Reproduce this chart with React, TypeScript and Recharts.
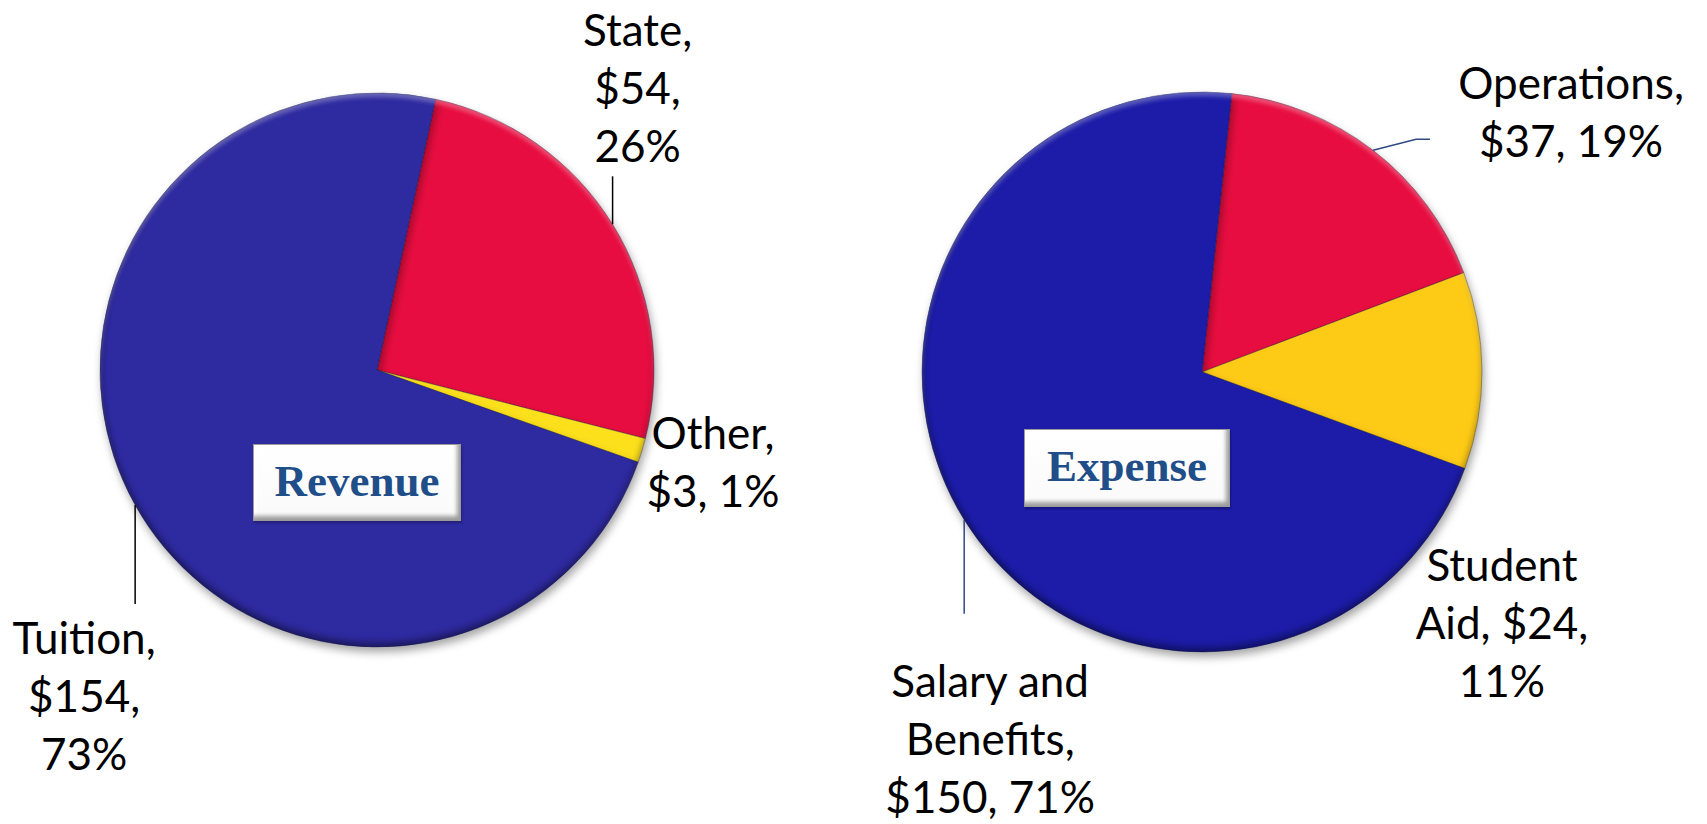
import React from 'react';
import { PieChart, Pie, Cell } from 'recharts';

// ---------- data ----------
const revenueNames = ['State', 'Other', 'Tuition'];
const revenueValues = [54, 3, 154];
const revenuePct = [26, 1, 73];
const revenueColors = ['#E8113F', '#FCE01C', '#2D2BA0'];

const expenseNames = ['Operations', 'Student Aid', 'Salary and Benefits'];
const expenseValues = [37, 24, 150];
const expensePct = [19, 11, 71];
const expenseColors = ['#E8113F', '#FDCA16', '#1A1DA8'];

// ---------- geometry / label layout (style, not data) ----------
const REV = { cx: 377, cy: 370, r: 277, start: 77.8 };
const EXP = { cx: 1202, cy: 372, r: 280, start: 83.9 };

type LabelLayout = { dx: number; dy: number; breaks: number[]; leader: number[][] };
const revenueLayout: LabelLayout[] = [
  { dx: 25, dy: -195, breaks: [1, 1, 1], leader: [[0, 0], [0, -48]] },
  { dx: 71, dy: -18, breaks: [1, 2], leader: [] },
  { dx: -51, dy: 132, breaks: [1, 1, 1], leader: [[0, 0], [0, 99]] },
];
const expenseLayout: LabelLayout[] = [
  { dx: 198, dy: -68, breaks: [1, 2], leader: [[0, 0], [43, -11], [57, -11]] },
  { dx: 20, dy: 193, breaks: [1, 2, 1], leader: [] },
  { dx: 26, dy: 160, breaks: [2, 1, 2], leader: [[0, 0], [0, 94]] },
];

const revenueData = revenueNames.map((n, i) => ({ name: n, value: revenueValues[i], pct: revenuePct[i] }));
const expenseData = expenseNames.map((n, i) => ({ name: n, value: expenseValues[i], pct: expensePct[i] }));

const RAD = Math.PI / 180;
const LINE_H = 58;
const FONT = 'Lato, "Open Sans", sans-serif';

function makeLabel(layouts: LabelLayout[], leaderColor: string) {
  return (props: any) => {
    const { cx, cy, midAngle, outerRadius, index, payload } = props;
    const lay = layouts[index];
    const ex = cx + outerRadius * Math.cos(-midAngle * RAD);
    const ey = cy + outerRadius * Math.sin(-midAngle * RAD);
    const p = payload && payload.payload ? payload.payload : payload;
    const full = `${p.name}, $${p.value}, ${p.pct}%`;
    const words = full.split(' ');
    const lines: string[] = [];
    let k = 0;
    lay.breaks.forEach((b) => {
      lines.push(words.slice(k, k + b).join(' '));
      k += b;
    });
    const tx = ex + lay.dx;
    const ty = ey + lay.dy;
    return (
      <g key={`lbl-${index}`}>
        {lay.leader.length > 1 && (
          <polyline
            points={lay.leader.map(([x, y]) => `${ex + x},${ey + y}`).join(' ')}
            fill="none"
            stroke={leaderColor}
            strokeWidth={1.5}
          />
        )}
        <text x={tx} y={ty} textAnchor="middle" fill="#000" style={{ fontFamily: FONT, fontSize: 44 }}>
          {lines.map((l, i) => (
            <tspan key={i} x={tx} y={ty + i * LINE_H} dominantBaseline="central">
              {l}
            </tspan>
          ))}
        </text>
      </g>
    );
  };
}

const boxStyle = (left: number, top: number, w: number, h: number): React.CSSProperties => ({
  position: 'absolute',
  left,
  top,
  width: w,
  height: h,
  boxSizing: 'border-box',
  background: 'linear-gradient(#ffffff, #fafafa)',
  border: '1px solid #9a9a9a',
  boxShadow:
    'inset -4px -5px 4px -1px rgba(0,0,0,0.38), inset 3px 3px 3px rgba(255,255,255,1), 1px 2px 2px rgba(0,0,0,0.25)',
  display: 'flex',
  alignItems: 'center',
  justifyContent: 'center',
  fontFamily: '"Liberation Serif", serif',
  fontWeight: 'bold',
  fontSize: 45,
  color: '#1F4E89',
  paddingBottom: 4,
});

const bevelStyle = (g: { cx: number; cy: number; r: number }): React.CSSProperties => ({
  position: 'absolute',
  left: g.cx - g.r,
  top: g.cy - g.r,
  width: g.r * 2,
  height: g.r * 2,
  borderRadius: '50%',
  pointerEvents: 'none',
  boxShadow:
    'inset 0 -5px 6px rgba(0,0,0,0.35), inset 0 4px 4px rgba(255,255,255,0.3), inset 3px 0 4px rgba(0,0,0,0.12)',
});

export default function App() {
  return (
    <div style={{ position: 'absolute', left: 0, top: 0, width: 1707, height: 824, background: '#fff' }}>
      <svg width={0} height={0} style={{ position: 'absolute' }}>
        <defs>
          <filter id="pieShadow" x="-20%" y="-20%" width="140%" height="140%">
            <feDropShadow dx="2" dy="5" stdDeviation="4" floodColor="#000" floodOpacity="0.35" />
          </filter>
        </defs>
      </svg>
      <PieChart width={1707} height={824} margin={{ top: 0, right: 0, bottom: 0, left: 0 }}>
        <Pie
          data={revenueData}
          dataKey="value"
          nameKey="name"
          cx={REV.cx}
          cy={REV.cy}
          outerRadius={REV.r}
          startAngle={REV.start}
          endAngle={REV.start - 360}
          isAnimationActive={false}
          stroke="rgba(20,20,60,0.35)"
          strokeWidth={1}
          labelLine={false}
          label={makeLabel(revenueLayout, '#000')}
        >
          {revenueData.map((d, i) => (
            <Cell key={d.name} fill={revenueColors[i]} filter="url(#pieShadow)" />
          ))}
        </Pie>
        <Pie
          data={expenseData}
          dataKey="value"
          nameKey="name"
          cx={EXP.cx}
          cy={EXP.cy}
          outerRadius={EXP.r}
          startAngle={EXP.start}
          endAngle={EXP.start - 360}
          isAnimationActive={false}
          stroke="rgba(20,20,60,0.35)"
          strokeWidth={1}
          labelLine={false}
          label={makeLabel(expenseLayout, '#2F4A80')}
        >
          {expenseData.map((d, i) => (
            <Cell key={d.name} fill={expenseColors[i]} filter="url(#pieShadow)" />
          ))}
        </Pie>
      </PieChart>
      <div style={bevelStyle(REV)} />
      <div style={bevelStyle(EXP)} />
      <div style={boxStyle(253, 444, 208, 77)}>Revenue</div>
      <div style={boxStyle(1024, 429, 206, 78)}>Expense</div>
    </div>
  );
}
